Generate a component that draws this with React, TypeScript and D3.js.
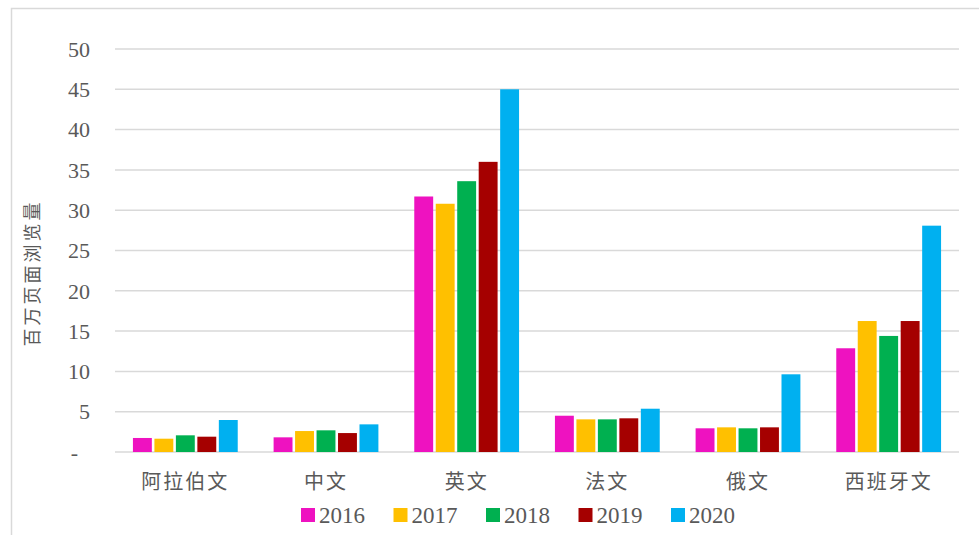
import React from "react";
import * as d3 from "d3";

const categories = ["阿拉伯文", "中文", "英文", "法文", "俄文", "西班牙文"];
const seriesNames = ["2016", "2017", "2018", "2019", "2020"];
const v2016 = [1.74, 1.82, 31.7, 4.5, 2.94, 12.87];
const v2017 = [1.65, 2.6, 30.8, 4.05, 3.06, 16.25];
const v2018 = [2.07, 2.69, 33.6, 4.05, 2.94, 14.4];
const v2019 = [1.9, 2.35, 36.0, 4.18, 3.06, 16.25];
const v2020 = [3.97, 3.43, 45.0, 5.37, 9.64, 28.08];
const seriesValues = [v2016, v2017, v2018, v2019, v2020];
const colors = ["#EE12C0", "#FFC000", "#00B050", "#A50000", "#00B0F0"];
const yTicks = [0, 5, 10, 15, 20, 25, 30, 35, 40, 45, 50];
const yTitle = "百万页面浏览量";

const W = 979;
const H = 535;
const left = 115;
const right = 959;
const top = 49;
const bottom = 452;

export default function App() {
  const x = d3.scaleBand<string>().domain(categories).range([left, right]).paddingInner(0.255).paddingOuter(0.1275);
  const x1 = d3.scaleBand<string>().domain(seriesNames).range([0, x.bandwidth()]).paddingInner(0.12);
  const y = d3.scaleLinear().domain([0, 50]).range([bottom, top]);
  const serif = "'Liberation Serif', 'Times New Roman', 'DejaVu Serif', serif";
  const cjk = "'Noto Sans CJK SC', sans-serif";
  const legendX0 = 301;
  const legendStep = 92.5;
  return (
    <svg width={W} height={H} style={{ position: "absolute", left: 0, top: 0, background: "#fff" }}>
      <rect x={11.5} y={8.5} width={1000} height={600} fill="#fff" stroke="#d9d9d9" strokeWidth={1.5} />
      {yTicks.map((t) => (
        <g key={t}>
          <line x1={left} x2={right} y1={y(t)} y2={y(t)} stroke="#d9d9d9" strokeWidth={1.5} />
          <text
            x={t === 0 ? 78 : 90}
            y={y(t)}
            dy="0.35em"
            textAnchor="end"
            style={{ fontFamily: serif, fontSize: 22 }}
            fill="#595959"
          >
            {t === 0 ? "-" : t}
          </text>
        </g>
      ))}
      {categories.map((c, ci) => (
        <g key={c} transform={`translate(${x(c)},0)`}>
          {seriesNames.map((s, si) => {
            const v = seriesValues[si][ci];
            return (
              <rect
                key={s}
                x={x1(s)}
                y={y(v)}
                width={x1.bandwidth()}
                height={y(0) - y(v)}
                fill={colors[si]}
              />
            );
          })}
          <text
            x={x.bandwidth() / 2}
            y={482}
            dy="0.35em"
            textAnchor="middle"
            style={{ fontFamily: cjk, fontSize: 20, letterSpacing: 2 }}
            fill="#595959"
          >
            {c}
          </text>
        </g>
      ))}
      <text
        transform={`translate(33,273) rotate(-90)`}
        textAnchor="middle"
        dy="0.35em"
        style={{ fontFamily: cjk, fontSize: 18, letterSpacing: 3 }}
        fill="#595959"
      >
        {yTitle}
      </text>
      {seriesNames.map((s, si) => (
        <g key={s} transform={`translate(${legendX0 + si * legendStep},515)`}>
          <rect x={0} y={-7} width={14} height={14} fill={colors[si]} />
          <text x={18} y={0} dy="0.35em" style={{ fontFamily: serif, fontSize: 23 }} fill="#595959">
            {s}
          </text>
        </g>
      ))}
    </svg>
  );
}
